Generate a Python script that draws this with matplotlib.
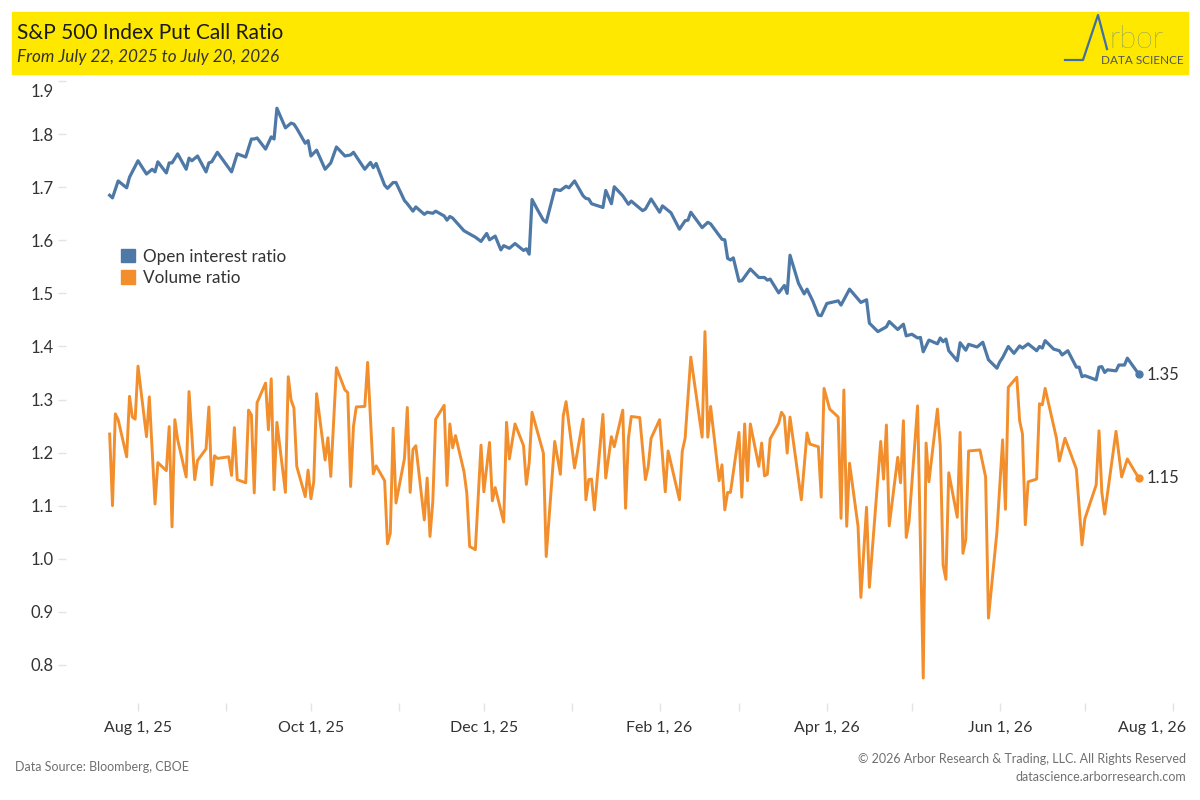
import matplotlib
matplotlib.use("Agg")
import matplotlib.pyplot as plt
import matplotlib.dates as mdates
from matplotlib.patches import Rectangle, Patch
from matplotlib.lines import Line2D
from matplotlib.transforms import ScaledTranslation
import pandas as pd

plt.rcParams['font.family'] = ['Lato', 'DejaVu Sans']

start = pd.Timestamp("2025-07-22")

# open interest put/call ratio, days since Jul 22, 2025
oi_day = [0, 1, 3, 6, 7, 10, 13, 15, 16, 17,
          20, 21, 22, 24, 27, 28, 29, 31, 34, 35,
          36, 38, 43, 45, 48, 50, 51, 52, 55, 57,
          58, 59, 62, 64, 65, 66, 69, 70, 71, 73,
          76, 78, 80, 83, 85, 86, 90, 92, 93, 94,
          97, 98, 100, 101, 104, 105, 107, 108, 111, 112,
          114, 115, 118, 119, 120, 121, 125, 127, 129, 131,
          133, 134, 136, 138, 139, 141, 143, 146, 147, 148,
          149, 151, 153, 154, 157, 159, 161, 162, 164, 167,
          168, 169, 170, 174, 175, 177, 178, 181, 183, 184,
          188, 189, 191, 194, 195, 198, 201, 203, 204, 205,
          209, 211, 212, 216, 217, 218, 219, 220, 222, 223,
          226, 229, 231, 232, 233, 236, 238, 239, 240, 243,
          245, 246, 248, 250, 251, 253, 257, 258, 259, 261,
          265, 267, 268, 271, 274, 275, 278, 280, 281, 283,
          285, 286, 287, 289, 292, 293, 294, 295, 296, 299,
          300, 302, 303, 306, 308, 310, 313, 314, 315, 317,
          319, 321, 322, 324, 327, 328, 329, 330, 333, 335,
          336, 338, 341, 342, 343, 344, 348, 349, 350, 351,
          352, 355, 356, 358, 359, 363]
oi_ratio = [1.685, 1.680, 1.712, 1.699, 1.719, 1.750, 1.725, 1.734, 1.729, 1.748,
            1.727, 1.746, 1.746, 1.763, 1.734, 1.755, 1.750, 1.759, 1.729, 1.746,
            1.748, 1.766, 1.729, 1.763, 1.757, 1.791, 1.791, 1.793, 1.772, 1.795,
            1.791, 1.849, 1.812, 1.821, 1.819, 1.811, 1.783, 1.788, 1.759, 1.770,
            1.734, 1.746, 1.776, 1.759, 1.761, 1.766, 1.734, 1.747, 1.737, 1.745,
            1.704, 1.698, 1.709, 1.709, 1.675, 1.669, 1.655, 1.663, 1.649, 1.653,
            1.651, 1.655, 1.646, 1.638, 1.645, 1.642, 1.618, 1.612, 1.606, 1.598,
            1.613, 1.601, 1.608, 1.582, 1.590, 1.585, 1.594, 1.581, 1.584, 1.574,
            1.677, 1.657, 1.638, 1.634, 1.696, 1.694, 1.702, 1.699, 1.712, 1.684,
            1.679, 1.678, 1.669, 1.662, 1.694, 1.669, 1.701, 1.684, 1.668, 1.674,
            1.656, 1.659, 1.678, 1.653, 1.665, 1.652, 1.621, 1.637, 1.638, 1.653,
            1.624, 1.634, 1.631, 1.602, 1.601, 1.566, 1.563, 1.567, 1.523, 1.524,
            1.546, 1.530, 1.530, 1.525, 1.527, 1.501, 1.515, 1.500, 1.572, 1.519,
            1.499, 1.508, 1.486, 1.459, 1.458, 1.481, 1.486, 1.478, 1.488, 1.508,
            1.483, 1.488, 1.444, 1.428, 1.437, 1.447, 1.432, 1.442, 1.420, 1.423,
            1.416, 1.417, 1.390, 1.412, 1.405, 1.416, 1.409, 1.414, 1.392, 1.373,
            1.407, 1.393, 1.404, 1.399, 1.408, 1.375, 1.359, 1.371, 1.379, 1.400,
            1.387, 1.401, 1.397, 1.405, 1.392, 1.400, 1.397, 1.411, 1.395, 1.392,
            1.384, 1.392, 1.361, 1.361, 1.343, 1.345, 1.337, 1.361, 1.362, 1.351,
            1.356, 1.354, 1.365, 1.365, 1.378, 1.348]

# volume put/call ratio
vol_day = [0, 1, 2, 3, 6, 7, 8, 9, 10, 13,
           14, 16, 17, 20, 21, 22, 23, 24, 27, 28,
           30, 31, 34, 35, 36, 37, 38, 42, 43, 44,
           45, 48, 49, 50, 51, 52, 55, 56, 57, 58,
           59, 62, 63, 64, 65, 66, 69, 70, 71, 72,
           73, 76, 77, 78, 80, 83, 84, 85, 86, 87,
           90, 91, 93, 94, 97, 98, 99, 100, 101, 104,
           105, 106, 107, 108, 111, 112, 113, 114, 115, 118,
           119, 120, 121, 122, 125, 126, 127, 129, 131, 132,
           134, 135, 136, 139, 140, 141, 143, 146, 147, 148,
           149, 153, 154, 157, 159, 160, 161, 164, 167, 168,
           169, 170, 171, 174, 175, 177, 178, 181, 182, 183,
           184, 187, 189, 190, 191, 194, 196, 197, 201, 202,
           203, 205, 209, 210, 211, 212, 215, 216, 217, 218,
           219, 222, 223, 224, 225, 226, 229, 230, 231, 232,
           233, 236, 237, 238, 239, 240, 244, 246, 247, 250,
           251, 252, 254, 257, 258, 259, 260, 261, 264, 265,
           267, 268, 272, 273, 274, 275, 278, 279, 280, 281,
           282, 285, 287, 288, 289, 292, 293, 294, 295, 296,
           299, 300, 301, 302, 303, 307, 309, 310, 313, 315,
           316, 317, 320, 321, 322, 323, 324, 327, 328, 329,
           330, 334, 335, 337, 341, 343, 344, 348, 349, 350,
           351, 355, 357, 359, 363]
vol_ratio = [1.235, 1.100, 1.273, 1.262, 1.192, 1.306, 1.267, 1.263, 1.363, 1.230,
             1.305, 1.103, 1.181, 1.166, 1.249, 1.060, 1.262, 1.224, 1.154, 1.315,
             1.149, 1.185, 1.207, 1.286, 1.139, 1.194, 1.189, 1.192, 1.157, 1.247,
             1.149, 1.143, 1.280, 1.271, 1.124, 1.294, 1.331, 1.243, 1.339, 1.130,
             1.257, 1.125, 1.343, 1.299, 1.284, 1.174, 1.117, 1.167, 1.113, 1.145,
             1.311, 1.186, 1.228, 1.155, 1.360, 1.318, 1.313, 1.136, 1.249, 1.286,
             1.287, 1.370, 1.160, 1.175, 1.147, 1.028, 1.048, 1.246, 1.105, 1.189,
             1.285, 1.125, 1.206, 1.213, 1.073, 1.152, 1.042, 1.108, 1.263, 1.289,
             1.138, 1.254, 1.209, 1.232, 1.164, 1.123, 1.023, 1.017, 1.214, 1.126,
             1.219, 1.109, 1.134, 1.069, 1.257, 1.188, 1.254, 1.213, 1.140, 1.181,
             1.276, 1.199, 1.004, 1.221, 1.159, 1.269, 1.296, 1.171, 1.263, 1.111,
             1.149, 1.150, 1.092, 1.272, 1.152, 1.230, 1.211, 1.280, 1.095, 1.227,
             1.268, 1.266, 1.149, 1.174, 1.227, 1.262, 1.126, 1.203, 1.111, 1.203,
             1.227, 1.380, 1.229, 1.428, 1.229, 1.287, 1.147, 1.177, 1.092, 1.125,
             1.125, 1.238, 1.116, 1.254, 1.147, 1.254, 1.174, 1.218, 1.156, 1.159,
             1.226, 1.255, 1.276, 1.268, 1.199, 1.267, 1.111, 1.237, 1.216, 1.211,
             1.116, 1.321, 1.282, 1.267, 1.076, 1.318, 1.061, 1.180, 1.061, 0.927,
             1.097, 0.946, 1.221, 1.150, 1.252, 1.062, 1.191, 1.143, 1.260, 1.040,
             1.070, 1.288, 0.775, 1.218, 1.145, 1.282, 1.213, 0.988, 0.961, 1.162,
             1.078, 1.238, 1.010, 1.036, 1.203, 1.205, 1.154, 0.888, 1.051, 1.224,
             1.093, 1.323, 1.342, 1.260, 1.235, 1.064, 1.145, 1.150, 1.292, 1.290,
             1.321, 1.227, 1.184, 1.227, 1.169, 1.026, 1.075, 1.139, 1.241, 1.125,
             1.084, 1.240, 1.154, 1.188, 1.152]

x_ticks = ["2025-08-01", "2025-10-01", "2025-12-01", "2026-02-01",
           "2026-04-01", "2026-06-01", "2026-08-01"]
x_labels = ["Aug 1, 25", "Oct 1, 25", "Dec 1, 25", "Feb 1, 26",
            "Apr 1, 26", "Jun 1, 26", "Aug 1, 26"]
y_ticks = [0.8, 0.9, 1.0, 1.1, 1.2, 1.3, 1.4, 1.5, 1.6, 1.7, 1.8, 1.9]

BLUE = '#4E79A7'
ORANGE = '#F28E2B'
TXT = '#333333'

oi_dates = start + pd.to_timedelta(oi_day, unit="D")
vol_dates = start + pd.to_timedelta(vol_day, unit="D")

fig = plt.figure(figsize=(12, 8), dpi=100)
W, H = 1200.0, 800.0

# header banner
fig.add_artist(Rectangle((12 / W, 1 - 74 / H), 1176 / W, 62 / H,
                         transform=fig.transFigure, color='#FFE800', zorder=0))
fig.text(17 / W, 1 - 33 / H, "S&P 500 Index Put Call Ratio", fontsize=15,
         color='#1a1a1a', va='center', ha='left')
fig.text(17 / W, 1 - 57 / H, "From July 22, 2025 to July 20, 2026", fontsize=12.3,
         style='italic', color='#333333', va='center', ha='left')

# logo
logo_x = [1065, 1083, 1098, 1107]
logo_y = [60, 60, 15, 49]
fig.add_artist(Line2D([v / W for v in logo_x], [1 - v / H for v in logo_y],
                      transform=fig.transFigure, color='#3F6FA8', lw=1.6))
fig.text(1109 / W, 1 - 47.5 / H, "rbor", fontsize=22, color='#3F6FA8',
         ha='left', va='baseline', fontweight='light')
fig.text(1184 / W, 1 - 60 / H, "DATA SCIENCE", fontsize=8.5, color='#4d5560',
         ha='right', va='center')

ax = fig.add_axes([66 / W, 1 - 703 / H, (1190 - 66) / W, (703 - 78) / H])
ax.plot(oi_dates, oi_ratio, color=BLUE, lw=2.3, solid_joinstyle='round',
        label='Open interest ratio')
ax.plot(vol_dates, vol_ratio, color=ORANGE, lw=2.1, solid_joinstyle='round',
        label='Volume ratio')
ax.plot(oi_dates[-1:], oi_ratio[-1:], 'o', color=BLUE, ms=5)
ax.plot(vol_dates[-1:], vol_ratio[-1:], 'o', color=ORANGE, ms=5)

ax.annotate(f"{oi_ratio[-1]:.2f}", (oi_dates[-1], oi_ratio[-1]), xytext=(6, -1),
            textcoords='offset points', va='center', ha='left', fontsize=12, color=TXT)
ax.annotate(f"{vol_ratio[-1]:.2f}", (vol_dates[-1], vol_ratio[-1]), xytext=(6, 0),
            textcoords='offset points', va='center', ha='left', fontsize=12, color=TXT)

ax.set_xlim(start - pd.Timedelta(days=15.4), start + pd.Timedelta(days=381.1))
ax.set_ylim(0.728, 1.906)

for s in ax.spines.values():
    s.set_visible(False)

ax.set_yticks(y_ticks)
ax.set_yticklabels([f"{v:.1f}" for v in y_ticks])
ax.set_xticks(pd.to_datetime(x_ticks))
ax.set_xticklabels(x_labels)
ax.xaxis.set_minor_locator(mdates.MonthLocator())
ax.tick_params(axis='both', which='both', colors='#e3e3e3', labelcolor=TXT,
               length=6, width=1)
ax.tick_params(axis='x', which='both', pad=7, labelsize=11.5)
ax.tick_params(axis='y', pad=3, labelsize=12)

# edge labels kept inside the view, as in the original
last = ax.get_xticklabels()[-1]
last.set_transform(last.get_transform() + ScaledTranslation(-0.21, 0, fig.dpi_scale_trans))
top = ax.get_yticklabels()[-1]
top.set_transform(top.get_transform() + ScaledTranslation(0, -0.09, fig.dpi_scale_trans))

handles = [Patch(color=BLUE, label='Open interest ratio'),
           Patch(color=ORANGE, label='Volume ratio')]
ax.legend(handles=handles, loc='upper left', bbox_to_anchor=(112 / W, 1 - 240 / H),
          bbox_transform=fig.transFigure, frameon=False, fontsize=12.3,
          handlelength=0.85, handleheight=0.85, handletextpad=0.45,
          labelspacing=0.3, borderpad=0, labelcolor=TXT)

# footer
fig.text(15 / W, 1 - 767 / H, "Data Source: Bloomberg, CBOE", fontsize=9,
         color='#707070', ha='left', va='center')
fig.text(1186 / W, 1 - 759 / H, "\u00a9 2026 Arbor Research & Trading, LLC. All Rights Reserved",
         fontsize=9, color='#707070', ha='right', va='center')
fig.text(1186 / W, 1 - 777 / H, "datascience.arborresearch.com", fontsize=9,
         color='#707070', ha='right', va='center')

fig.savefig("out.png", dpi=100, facecolor='white')
